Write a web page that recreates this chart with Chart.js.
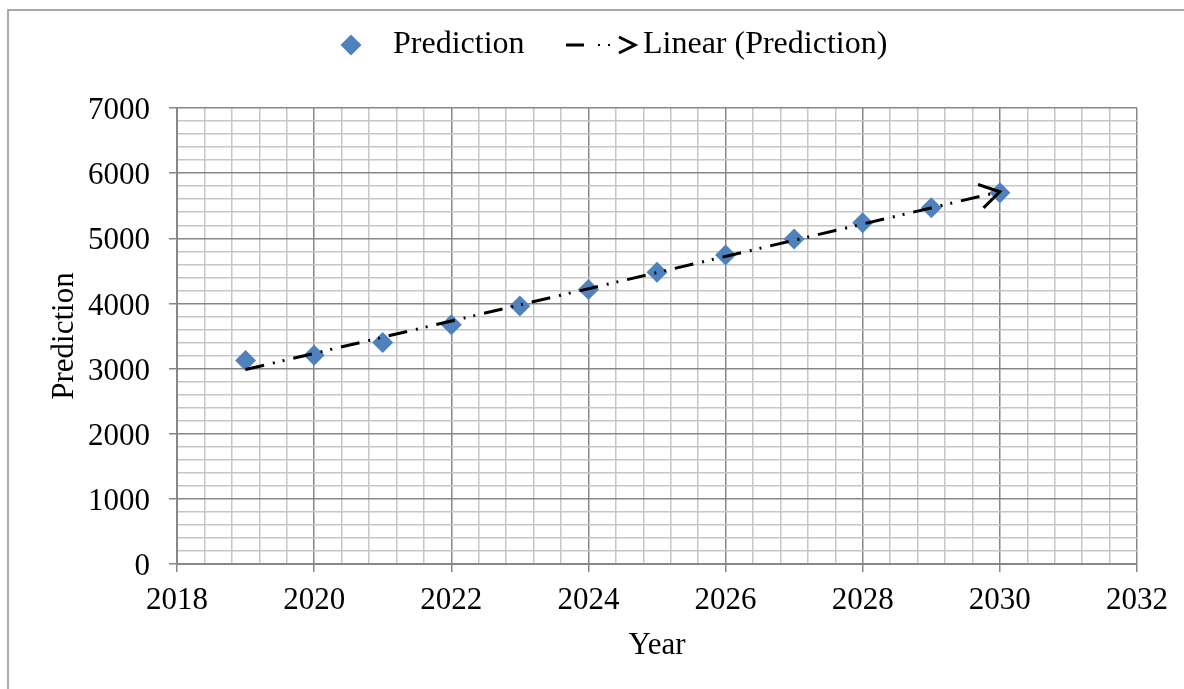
<!DOCTYPE html>
<html>
<head>
<meta charset="utf-8">
<title>Prediction</title>
<script src="https://cdn.jsdelivr.net/npm/chart.js@4"></script>
<style>
  html, body { margin: 0; padding: 0; background: #fff; }
  #wrap { width: 1184px; height: 689px; }
</style>
</head>
<body>
<div id="wrap"><canvas id="chart" width="1184" height="689"></canvas></div>
<script>
// Datos
const years = [2019, 2020, 2021, 2022, 2023, 2024, 2025, 2026, 2027, 2028, 2029, 2030];
const predictionValues = [3122, 3205, 3400, 3674, 3960, 4215, 4480, 4745, 4990, 5240, 5470, 5700];
// Línea de tendencia (extremos)
const trendYears = [2019, 2030];
const trendValues = [2985, 5715];
// Etiquetas de los ejes
const xTickLabels = [2018, 2020, 2022, 2024, 2026, 2028, 2030, 2032];
const yTickLabels = [0, 1000, 2000, 3000, 4000, 5000, 6000, 7000];

const FONT = '"Liberation Serif", "Times New Roman", serif';
const FONT_SIZE = 31;
const MARKER_COLOR = '#4F81BD';
const MAJOR_GRID = '#878787';
const MINOR_GRID = '#c6c6c6';

function isMajor(list, value) {
    return list.some(t => Math.abs(t - value) < 1e-6);
}

function drawDiamond(ctx, x, y, r) {
    ctx.beginPath();
    ctx.moveTo(x, y - r);
    ctx.lineTo(x + r, y);
    ctx.lineTo(x, y + r);
    ctx.lineTo(x - r, y);
    ctx.closePath();
    ctx.fill();
}

// Plugin para fondo, marco, flecha de la tendencia y leyenda
const chartDecorations = {
    id: 'chartDecorations',
    beforeDraw(chart) {
        const ctx = chart.ctx;
        ctx.save();
        ctx.fillStyle = '#ffffff';
        ctx.fillRect(0, 0, chart.width, chart.height);
        // Marco exterior (solo arriba e izquierda visibles)
        ctx.strokeStyle = '#8f8f8f';
        ctx.lineWidth = 1.5;
        ctx.beginPath();
        ctx.moveTo(8, chart.height);
        ctx.lineTo(8, 10);
        ctx.lineTo(chart.width, 10);
        ctx.stroke();
        ctx.restore();
    },
    afterDatasetsDraw(chart) {
        const meta = chart.getDatasetMeta(1);
        if (!meta || meta.data.length < 2) return;
        const p0 = meta.data[0];
        const p1 = meta.data[meta.data.length - 1];
        const angle = Math.atan2(p1.y - p0.y, p1.x - p0.x);
        const len = 23;
        const spread = 0.55;
        const ctx = chart.ctx;
        ctx.save();
        ctx.strokeStyle = '#000';
        ctx.lineWidth = 3;
        ctx.lineJoin = 'miter';
        ctx.setLineDash([]);
        ctx.beginPath();
        ctx.moveTo(p1.x - len * Math.cos(angle - spread), p1.y - len * Math.sin(angle - spread));
        ctx.lineTo(p1.x, p1.y);
        ctx.lineTo(p1.x - len * Math.cos(angle + spread), p1.y - len * Math.sin(angle + spread));
        ctx.stroke();
        ctx.restore();
    },
    afterDraw(chart) {
        const ctx = chart.ctx;
        const cy = 45;
        ctx.save();
        ctx.font = '32px ' + FONT;
        ctx.fillStyle = '#000';
        ctx.textBaseline = 'middle';
        ctx.textAlign = 'left';

        // Entrada 1: marcador
        ctx.fillStyle = MARKER_COLOR;
        drawDiamond(ctx, 351, cy, 10.5);
        ctx.fillStyle = '#000';
        ctx.fillText('Prediction', 393, cy);

        // Entrada 2: línea con flecha
        ctx.strokeStyle = '#000';
        ctx.lineWidth = 3;
        ctx.beginPath();
        ctx.moveTo(566, cy);
        ctx.lineTo(584, cy);
        ctx.stroke();
        ctx.fillRect(598, cy - 1, 2, 2);
        ctx.fillRect(608, cy - 1, 2, 2);
        ctx.beginPath();
        ctx.moveTo(619, cy - 8);
        ctx.lineTo(635, cy);
        ctx.lineTo(619, cy + 8);
        ctx.stroke();
        ctx.fillText('Linear (Prediction)', 643, cy);
        ctx.restore();
    }
};

new Chart(document.getElementById('chart'), {
    type: 'scatter',
    data: {
        datasets: [
            {
                label: 'Prediction',
                data: years.map((y, i) => ({ x: y, y: predictionValues[i] })),
                pointStyle: 'rectRot',
                pointRadius: 10.5,
                pointHoverRadius: 10.5,
                pointBorderWidth: 0,
                backgroundColor: MARKER_COLOR,
                borderColor: MARKER_COLOR,
                order: 1
            },
            {
                label: 'Linear (Prediction)',
                data: trendYears.map((y, i) => ({ x: y, y: trendValues[i] })),
                showLine: true,
                pointRadius: 0,
                borderColor: '#000',
                borderWidth: 3,
                borderDash: [19, 9, 2, 8, 2, 9],
                order: 0
            }
        ]
    },
    options: {
        responsive: false,
        animation: false,
        events: [],
        layout: { padding: { top: 108, right: 47, left: 0, bottom: 0 } },
        plugins: {
            legend: { display: false },
            tooltip: { enabled: false }
        },
        scales: {
            x: {
                type: 'linear',
                min: 2018,
                max: 2032,
                afterFit: scale => { scale.height = 125; },
                ticks: {
                    stepSize: 0.4,
                    autoSkip: false,
                    maxRotation: 0,
                    padding: 10,
                    color: '#000',
                    font: { family: FONT, size: FONT_SIZE },
                    callback: value => isMajor(xTickLabels, value) ? String(Math.round(value)) : ''
                },
                grid: {
                    lineWidth: 1.5,
                    tickLength: 8,
                    color: ctx => isMajor(xTickLabels, ctx.tick.value) ? MAJOR_GRID : MINOR_GRID,
                    tickColor: ctx => isMajor(xTickLabels, ctx.tick.value) ? MAJOR_GRID : 'rgba(0,0,0,0)'
                },
                border: { color: MAJOR_GRID, width: 2 },
                title: {
                    display: true,
                    text: 'Year',
                    color: '#000',
                    font: { family: FONT, size: FONT_SIZE },
                    padding: { top: 0, bottom: 25 }
                }
            },
            y: {
                min: 0,
                max: 7000,
                afterFit: scale => { scale.width = 177; },
                ticks: {
                    stepSize: 200,
                    autoSkip: false,
                    padding: 19,
                    labelOffset: 3,
                    color: '#000',
                    font: { family: FONT, size: FONT_SIZE },
                    callback: value => isMajor(yTickLabels, value) ? String(Math.round(value)) : ''
                },
                grid: {
                    lineWidth: 1.5,
                    tickLength: 8,
                    color: ctx => isMajor(yTickLabels, ctx.tick.value) ? MAJOR_GRID : MINOR_GRID,
                    tickColor: ctx => isMajor(yTickLabels, ctx.tick.value) ? MAJOR_GRID : 'rgba(0,0,0,0)'
                },
                border: { color: MAJOR_GRID, width: 2 },
                title: {
                    display: true,
                    text: 'Prediction',
                    color: '#000',
                    font: { family: FONT, size: FONT_SIZE },
                    padding: { top: 46, bottom: 0 }
                }
            }
        }
    },
    plugins: [chartDecorations]
});
</script>
</body>
</html>
